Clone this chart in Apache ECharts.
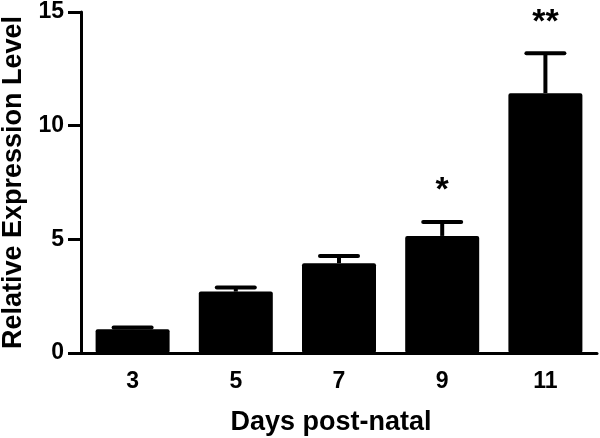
<!DOCTYPE html>
<html>
<head>
<meta charset="utf-8">
<script src="https://cdn.jsdelivr.net/npm/echarts@6/dist/echarts.min.js"></script>
<style>
  html, body { margin: 0; padding: 0; background: #fff; }
  #chart { width: 600px; height: 438px; }
</style>
</head>
<body>
<div id="chart"></div>
<script>
// data
const days = ['3', '5', '7', '9', '11'];
const means = [1.05, 2.7, 3.95, 5.15, 11.43];
const sem = [0.07, 0.18, 0.32, 0.61, 1.76];
const marks = ['', '', '', '*', '**'];
const yTicks = [0, 5, 10, 15];

const FONT = "'Liberation Sans', Arial, sans-serif";

const errData = means.map((m, i) => [i, m, m + sem[i]]);

const chart = echarts.init(document.getElementById('chart'));

const option = {
  animation: false,
  backgroundColor: '#fff',
  grid: { left: 81, right: 3, top: 12, bottom: 85, outerBoundsMode: 'none' },
  xAxis: {
    type: 'category',
    data: days,
    name: 'Days post-natal',
    nameLocation: 'middle',
    nameGap: 56,
    nameTextStyle: { fontFamily: FONT, fontWeight: 'bold', fontSize: 27, color: '#000', padding: [0, 16, 0, 0] },
    axisLine: { lineStyle: { color: '#000', width: 3 } },
    axisTick: { alignWithLabel: true, length: 10, lineStyle: { color: '#000', width: 3 } },
    axisLabel: { fontFamily: FONT, fontWeight: 'bold', fontSize: 23, color: '#000', margin: 17 },
    splitLine: { show: false }
  },
  yAxis: {
    type: 'value',
    min: yTicks[0],
    max: yTicks[yTicks.length - 1],
    interval: 5,
    name: 'Relative Expression Level',
    nameLocation: 'middle',
    nameRotate: 90,
    nameGap: 53,
    nameTextStyle: { fontFamily: FONT, fontWeight: 'bold', fontSize: 27, color: '#000' },
    axisLine: { show: true, lineStyle: { color: '#000', width: 3 } },
    axisTick: { show: true, length: 13, lineStyle: { color: '#000', width: 3 } },
    axisLabel: { fontFamily: FONT, fontWeight: 'bold', fontSize: 23, color: '#000', margin: 17 },
    splitLine: { show: false }
  },
  series: [
    {
      type: 'bar',
      data: means,
      barWidth: 74,
      itemStyle: { color: '#000', borderRadius: 2 }
    },
    {
      type: 'custom',
      data: errData,
      z: 3,
      renderItem: function (params, api) {
        const base = api.coord([api.value(0), api.value(1)]);
        const tip = api.coord([api.value(0), api.value(2)]);
        const half = 19;
        const children = [
          {
            type: 'line',
            shape: { x1: tip[0], y1: base[1], x2: tip[0], y2: tip[1] },
            style: { stroke: '#000', lineWidth: 4 }
          },
          {
            type: 'line',
            shape: { x1: tip[0] - half, y1: tip[1], x2: tip[0] + half, y2: tip[1] },
            style: { stroke: '#000', lineWidth: 4, lineCap: 'round' }
          }
        ];
        const mark = marks[params.dataIndex];
        if (mark) {
          children.push({
            type: 'text',
            style: {
              text: mark,
              x: tip[0],
              y: tip[1] - 31,
              align: 'center',
              verticalAlign: 'middle',
              font: 'bold 34px ' + FONT,
              fill: '#000'
            }
          });
        }
        return { type: 'group', children: children };
      }
    }
  ]
};

chart.setOption(option);
</script>
</body>
</html>
